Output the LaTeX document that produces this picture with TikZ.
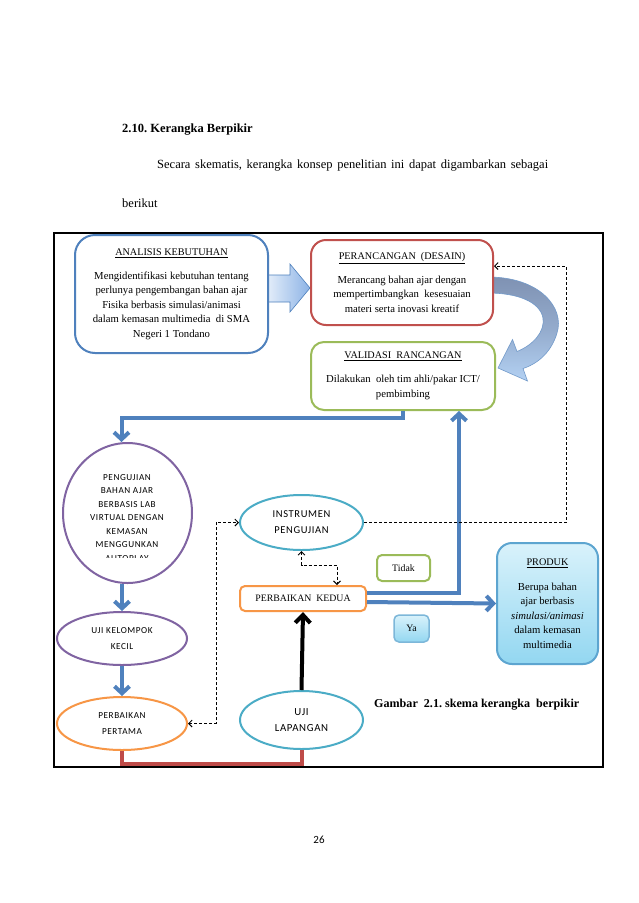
\documentclass[tikz,border=0pt]{standalone}
\usepackage{fontspec}
\setmainfont{Liberation Serif}
\newfontfamily\calfont[LetterSpace=6]{Carlito}
\newfontfamily\calplain{Carlito}
\usetikzlibrary{arrows.meta,shapes.geometric}
\definecolor{cblue}{HTML}{4F81BD}
\definecolor{cred}{HTML}{C0504D}
\definecolor{credline}{HTML}{BE4B48}
\definecolor{cgreen}{HTML}{9BBB59}
\definecolor{cpurple}{HTML}{8064A2}
\definecolor{cteal}{HTML}{4BACC6}
\definecolor{corange}{HTML}{F79646}
\definecolor{cgray}{HTML}{7F92B3}
\definecolor{clight}{HTML}{B3D1F3}
\definecolor{cpale}{HTML}{E6EFFA}
\definecolor{cmid}{HTML}{8CB3E6}
\definecolor{cyanTop}{HTML}{D9F2FB}
\definecolor{cyanBot}{HTML}{93D7F1}
\definecolor{cyanBorder}{HTML}{5DA5D0}
\newcommand{\ttl}[1]{{\fontsize{10.2}{14.5}\selectfont\underline{#1}}}
\frenchspacing
\begin{document}
\frenchspacing
\begin{tikzpicture}[x=1pt,y=-1pt,
  sbox/.style={draw, rounded corners=#1, line width=2pt, fill=white, align=center,
    inner sep=0pt, font=\fontsize{10.7}{14.5}\selectfont},
  ell/.style={ellipse, draw, line width=2pt, fill=white, inner sep=0pt, align=center,
    font=\calfont\fontsize{9.2}{16}\selectfont},
  bluecon/.style={draw=cblue, line width=4pt, -{Straight Barb[length=7pt,width=15pt]}},
  redcon/.style={draw=credline, line width=4pt},
  blackcon/.style={draw=black, line width=4pt, -{Straight Barb[length=8pt,width=15pt]}},
  dashcon/.style={draw=black, line width=0.9pt, dash pattern=on 3pt off 2pt},
  dtip/.tip={Straight Barb[length=3.5pt,width=7pt]},
  plain/.style={inner sep=0pt}
]
\useasboundingbox (0,0) rectangle (638,903);
\fill[white] (0,0) rectangle (638,903);

% page text
\node[plain, anchor=west, font=\bfseries\fontsize{12.5}{15}\selectfont] (head) at (122,130) {2.10. Kerangka Berpikir};
\node[plain, anchor=west, font=\fontsize{12.5}{15}\selectfont] (line1) at (157,166)
  {\makebox[391pt][s]{Secara skematis, kerangka konsep penelitian ini dapat digambarkan sebagai}};
\node[plain, anchor=west, font=\fontsize{12.5}{15}\selectfont] (line2) at (122,203.5) {berikut};
\node[plain, font=\calplain\fontsize{11}{13}\selectfont] (pnum) at (319,840) {26};

% frame
\draw[line width=2.5pt] (54,233) rectangle (603,767);

% block arrow analisis -> perancangan
\path[draw=cblue, line width=0.6pt, left color=cpale, right color=cmid]
  (266,275) -- (290,275) -- (290,264) -- (310,288) -- (290,312) -- (290,302) -- (266,302) -- cycle;

% curved block arrow perancangan -> validasi
\path[draw=cblue!80, line width=0.6pt, top color=cgray, bottom color=clight, middle color=cgray!60!clight]
  (488,277) .. controls (540,277) and (565,308) .. (557,333)
  .. controls (552,350) and (540,363) .. (523,368.5)
  -- (527.5,381) -- (498,368) -- (512.5,339.5) -- (517,351.5)
  .. controls (533,345) and (545,332) .. (543,318)
  .. controls (540,302) and (518,293) .. (488,293) -- cycle;

% boxes
\node[sbox=20pt, draw=cblue, minimum width=193pt, minimum height=118pt] (ana) at (171.5,294)
  {\ttl{ANALISIS KEBUTUHAN}\\[9.5pt]
   Mengidentifikasi kebutuhan tentang\\
   perlunya pengembangan bahan ajar\\
   Fisika berbasis simulasi/animasi\\
   dalam kemasan multimedia~ di SMA\\
   Negeri 1 Tondano};
\node[sbox=15pt, draw=cred, minimum width=182pt, minimum height=85pt] (per) at (402,282.5)
  {\ttl{PERANCANGAN~~(DESAIN)}\\[9.5pt]
   Merancang bahan ajar dengan\\
   mempertimbangkan~ kesesuaian\\
   materi serta inovasi kreatif};
\node[sbox=13pt, draw=cgreen, minimum width=184pt, minimum height=68pt] (val) at (403,376)
  {\ttl{VALIDASI~~RANCANGAN}\\[9.5pt]
   Dilakukan~ oleh tim ahli/pakar ICT/\\
   pembimbing};
\node[sbox=15pt, draw=cyanBorder, top color=cyanTop, bottom color=cyanBot,
      minimum width=101pt, minimum height=121pt] (prod) at (547.5,603.5)
  {\ttl{PRODUK}\\[10.5pt]
   Berupa bahan\\
   ajar berbasis\\
   \textit{simulasi/animasi}\\
   dalam kemasan\\
   multimedia};
\node[sbox=5pt, draw=corange, minimum width=126pt, minimum height=25pt,
      font=\fontsize{9.8}{12}\selectfont] (p2) at (303,598.5) {PERBAIKAN~~KEDUA};
\node[sbox=5pt, draw=cgreen, minimum width=53pt, minimum height=26pt,
      font=\fontsize{9.8}{12}\selectfont] (tid) at (403.5,568) {Tidak};
\node[sbox=5pt, draw=cyanBorder!80, top color=cyanTop, bottom color=cyanBot, line width=1.5pt,
      minimum width=35pt, minimum height=27pt,
      font=\fontsize{9.8}{12}\selectfont] (ya) at (411.5,628.5) {Ya};

% ellipses
\node[ell, draw=cpurple, minimum width=129pt, minimum height=140pt] (peng) at (127.5,513) {};
\begin{scope}
  \clip (60,440) rectangle (200,557);
  \node[plain, align=center, font=\calfont\fontsize{9.2}{13.5}\selectfont] (pengtxt) at (127,518)
    {PENGUJIAN\\BAHAN AJAR\\BERBASIS LAB\\VIRTUAL DENGAN\\KEMASAN\\MENGGUNKAN\\AUTOPLAY};
\end{scope}
\node[ell, draw=cpurple, minimum width=130pt, minimum height=53pt] (kel) at (122,638.5) {UJI KELOMPOK\\KECIL};
\node[ell, draw=corange, minimum width=130pt, minimum height=53pt] (p1) at (122,723.5) {PERBAIKAN\\PERTAMA};
\node[ell, draw=cteal, minimum width=123pt, minimum height=58pt,
      font=\calfont\fontsize{10.8}{15.5}\selectfont] (uji) at (301.5,720) {UJI\\LAPANGAN};
\node[ell, draw=cteal, minimum width=123pt, minimum height=55pt,
      font=\calfont\fontsize{10.5}{16}\selectfont] (ins) at (301.5,522.5) {INSTRUMEN\\PENGUJIAN};

% caption
\node[plain, anchor=west, font=\bfseries\fontsize{12.1}{14}\selectfont] (cap) at (374,705)
  {Gambar~ 2.1. skema kerangka~ berpikir};

% connectors
\draw[bluecon] (val.south) -- ++(0,7) -| ([xshift=-6pt]peng.north);
\draw[bluecon] (kel.north |- peng.south) -- (kel.north);
\draw[bluecon] (kel.south) -- (p1.north);
\draw[redcon] (p1.south) -- ++(0,13) -| (uji.south);
\draw[blackcon] (uji.north) -- (p2.south);
\draw[bluecon] ([yshift=5.5pt]p2.east) -| ([xshift=56pt]val.south);
\draw[bluecon] ([yshift=-3.5pt]p2.east) -- (prod.west);
\draw[dashcon, dtip-dtip] (ins.south) -- ++(0,14) -| ([xshift=34pt]p2.north);
\draw[dashcon, dtip-dtip] (p1.east) -- ++(28,0) |- (ins.west);
\draw[dashcon, -dtip] (ins.east) -- ++(202,0) |- ([yshift=16.5pt]per.east);
\end{tikzpicture}
\end{document}
